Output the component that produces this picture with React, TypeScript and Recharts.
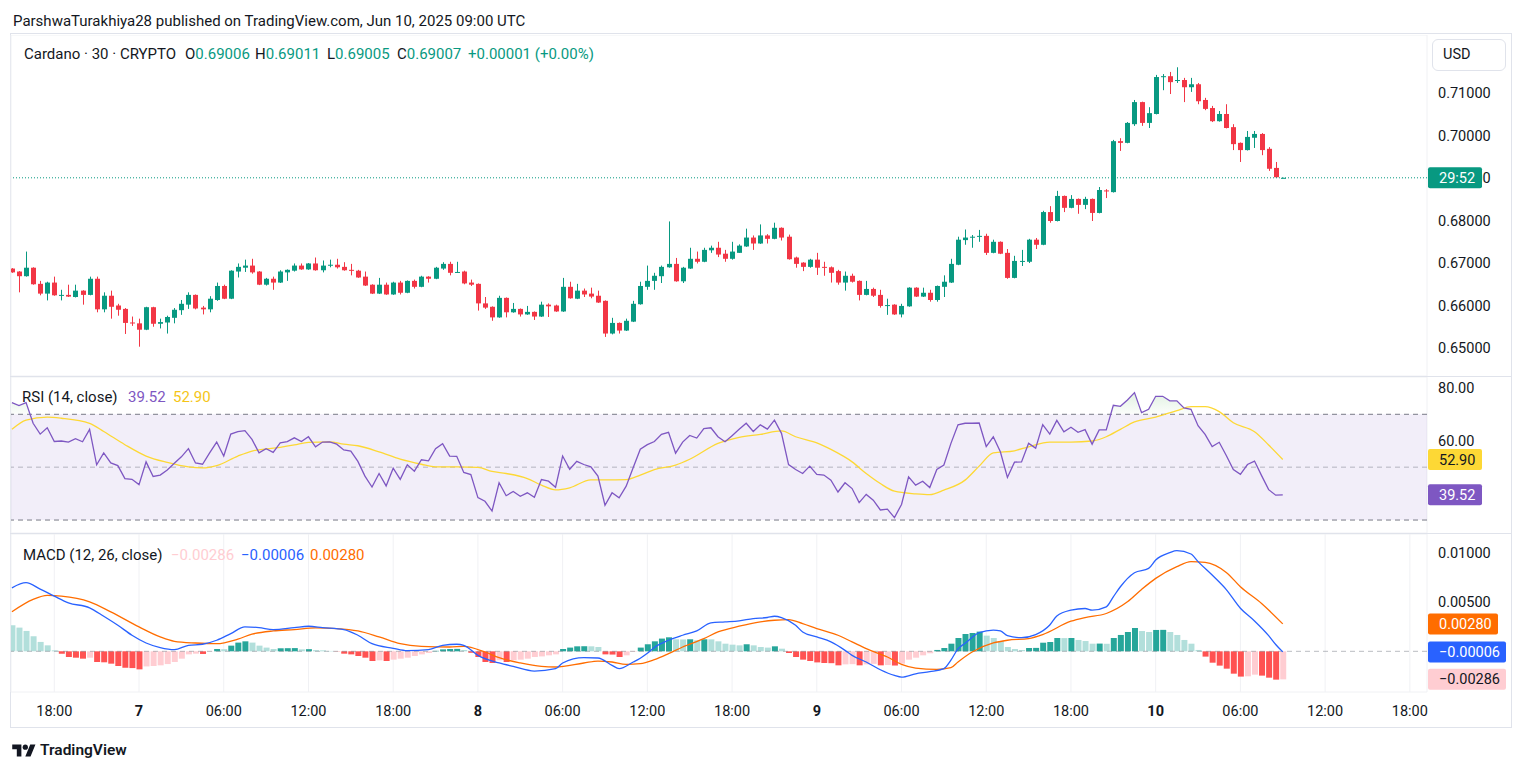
import React from "react";
import {
  ComposedChart,
  Bar,
  Line,
  Area,
  XAxis,
  YAxis,
  CartesianGrid,
  ReferenceLine,
  ReferenceArea,
  Cell,
} from "recharts";

const FONT = "Roboto, 'Noto Sans', Arial, sans-serif";
const TEXT = "#131722";
const GRID = "#f0f1f4";
const BORDER = "#e0e3eb";
const UP = "#089981";
const DOWN = "#f23645";
const RSI_COLOR = "#7e57c2";
const RSI_MA_COLOR = "#fdd835";
const MACD_COLOR = "#2962ff";
const SIGNAL_COLOR = "#ff6d00";

const CHART_W = 1512;
const AXIS_W = 85;
const X_DOMAIN: [number, number] = [-0.133, 200.43];

// ADA/USD 30m candles, Jun 6 15:00 UTC -> Jun 10 09:00 UTC: [open, high, low, close]
const CANDLES: [number, number, number, number][] = [
  [0.6687, 0.6688, 0.6677, 0.6678], [0.668, 0.6681, 0.6631, 0.6669], [0.6669, 0.6727, 0.6668, 0.6689], [0.6689, 0.669, 0.6649, 0.665], [0.6651, 0.6658, 0.6624, 0.6628], [0.6628, 0.6656, 0.6612, 0.6654],
  [0.6654, 0.6668, 0.6623, 0.6624], [0.6624, 0.6637, 0.6612, 0.6625], [0.6625, 0.6649, 0.662, 0.6621], [0.662, 0.6649, 0.6619, 0.6635], [0.6635, 0.6636, 0.6602, 0.6625], [0.6625, 0.6668, 0.6624, 0.6663], [0.6663, 0.6668, 0.6584, 0.6591], [0.6591, 0.6631, 0.6584, 0.6623], [0.6623, 0.6635, 0.6569, 0.6597], [0.66, 0.6604, 0.6576, 0.659], [0.6592, 0.6594, 0.6533, 0.6559], [0.656, 0.6574, 0.6552, 0.6559],
  [0.6558, 0.6569, 0.6503, 0.6543], [0.6543, 0.6597, 0.6542, 0.6596], [0.6596, 0.6597, 0.655, 0.6557], [0.6557, 0.6569, 0.6546, 0.6561], [0.656, 0.6576, 0.6534, 0.6573], [0.6571, 0.6594, 0.6558, 0.659], [0.6589, 0.6613, 0.6578, 0.6604], [0.6602, 0.6631, 0.6592, 0.6625], [0.6625, 0.6626, 0.6591, 0.6593], [0.6595, 0.6599, 0.6579, 0.6591], [0.6591, 0.6622, 0.6584, 0.6616], [0.6613, 0.6654, 0.6611, 0.6646],
  [0.6646, 0.6649, 0.6615, 0.6616], [0.6616, 0.6683, 0.6615, 0.6682], [0.668, 0.6699, 0.6666, 0.6691], [0.6689, 0.6708, 0.6679, 0.6694], [0.6694, 0.671, 0.6675, 0.6678], [0.668, 0.6681, 0.6648, 0.6649], [0.6649, 0.6665, 0.6647, 0.6663], [0.6663, 0.6668, 0.6637, 0.6654], [0.6654, 0.6683, 0.6653, 0.668], [0.6678, 0.6685, 0.6658, 0.6684], [0.6682, 0.6699, 0.668, 0.6694], [0.6694, 0.6699, 0.6684, 0.6685],
  [0.6685, 0.67, 0.6684, 0.6699], [0.6699, 0.6713, 0.6682, 0.6683], [0.6683, 0.6706, 0.6678, 0.6694], [0.6695, 0.6708, 0.669, 0.6696], [0.6696, 0.671, 0.6687, 0.669], [0.6691, 0.6702, 0.6682, 0.6683], [0.6684, 0.6698, 0.6671, 0.6683], [0.6682, 0.6684, 0.6665, 0.6666], [0.6668, 0.668, 0.6646, 0.6647], [0.6649, 0.665, 0.6627, 0.6628], [0.6628, 0.6665, 0.6627, 0.6649], [0.6649, 0.6654, 0.6625, 0.6626],
  [0.6626, 0.6656, 0.6625, 0.6654], [0.6654, 0.6658, 0.6626, 0.663], [0.663, 0.6659, 0.6629, 0.6658], [0.6658, 0.6661, 0.664, 0.6644], [0.6644, 0.667, 0.6643, 0.6668], [0.6668, 0.6669, 0.6654, 0.6663], [0.6663, 0.6691, 0.6662, 0.6689], [0.6687, 0.6702, 0.6684, 0.6698], [0.6698, 0.6703, 0.6671, 0.6677], [0.6678, 0.6703, 0.6677, 0.6679], [0.668, 0.6682, 0.665, 0.6652], [0.6654, 0.6661, 0.6646, 0.6649],
  [0.6651, 0.6652, 0.6588, 0.6605], [0.6605, 0.662, 0.6592, 0.6595], [0.6597, 0.6598, 0.6564, 0.6572], [0.6572, 0.6623, 0.6571, 0.6618], [0.6618, 0.6619, 0.6572, 0.6584], [0.6584, 0.6606, 0.6583, 0.6592], [0.6592, 0.6593, 0.6574, 0.6579], [0.6579, 0.6599, 0.6578, 0.6585], [0.6585, 0.6586, 0.6566, 0.6574], [0.6574, 0.6609, 0.6573, 0.6602], [0.6602, 0.6605, 0.6573, 0.6598], [0.66, 0.6602, 0.6585, 0.6586],
  [0.6586, 0.6665, 0.6585, 0.6644], [0.6644, 0.6656, 0.6616, 0.6617], [0.6616, 0.6651, 0.6615, 0.6635], [0.6635, 0.664, 0.662, 0.6626], [0.6628, 0.6642, 0.6617, 0.6621], [0.6623, 0.6635, 0.6606, 0.6607], [0.6611, 0.6612, 0.6526, 0.6534], [0.6534, 0.6571, 0.6532, 0.6559], [0.6559, 0.656, 0.6534, 0.6541], [0.6541, 0.6569, 0.654, 0.6564], [0.6562, 0.6611, 0.6561, 0.6604], [0.6603, 0.6656, 0.6602, 0.6646],
  [0.6644, 0.6694, 0.6637, 0.6658], [0.6658, 0.6677, 0.6637, 0.667], [0.6669, 0.6694, 0.6653, 0.6691], [0.669, 0.6798, 0.6689, 0.6698], [0.6698, 0.6712, 0.6656, 0.6657], [0.6657, 0.6691, 0.6653, 0.6689], [0.6687, 0.6736, 0.6686, 0.671], [0.671, 0.6727, 0.6699, 0.6703], [0.6703, 0.6736, 0.6702, 0.6731], [0.673, 0.6741, 0.6724, 0.6736], [0.6736, 0.675, 0.6714, 0.672], [0.6722, 0.6731, 0.6703, 0.671],
  [0.671, 0.675, 0.6708, 0.6727], [0.6724, 0.6744, 0.6724, 0.6741], [0.6739, 0.6781, 0.6738, 0.676], [0.676, 0.6765, 0.6731, 0.6746], [0.6746, 0.6791, 0.6745, 0.6765], [0.6765, 0.6768, 0.6746, 0.6757], [0.6757, 0.6795, 0.6756, 0.6783], [0.6783, 0.6784, 0.6753, 0.676], [0.6762, 0.6767, 0.6708, 0.6709], [0.6713, 0.6715, 0.6689, 0.6698], [0.6701, 0.6702, 0.6681, 0.6691], [0.6691, 0.671, 0.6689, 0.6708],
  [0.6708, 0.6724, 0.6672, 0.6689], [0.6691, 0.6703, 0.667, 0.669], [0.669, 0.6692, 0.6654, 0.6677], [0.6681, 0.6684, 0.6649, 0.6654], [0.6654, 0.668, 0.6635, 0.667], [0.667, 0.6675, 0.6654, 0.6656], [0.6658, 0.6659, 0.6612, 0.6625], [0.6625, 0.6658, 0.6624, 0.6639], [0.6639, 0.6642, 0.662, 0.6623], [0.6625, 0.6637, 0.6595, 0.6599], [0.66, 0.6616, 0.6578, 0.6601], [0.6602, 0.6603, 0.6578, 0.6579],
  [0.6579, 0.6604, 0.6572, 0.6599], [0.6598, 0.6643, 0.6597, 0.6642], [0.6642, 0.6643, 0.662, 0.6621], [0.6621, 0.6642, 0.662, 0.663], [0.663, 0.6637, 0.6609, 0.6613], [0.6613, 0.6647, 0.6609, 0.6646], [0.6644, 0.6671, 0.662, 0.6656], [0.6654, 0.671, 0.6653, 0.6698], [0.6696, 0.6762, 0.6695, 0.6755], [0.6754, 0.6779, 0.6743, 0.676], [0.6761, 0.6766, 0.6736, 0.6762], [0.6762, 0.6778, 0.675, 0.6764],
  [0.6764, 0.6769, 0.6719, 0.6724], [0.6724, 0.6755, 0.6723, 0.675], [0.675, 0.6751, 0.6721, 0.6722], [0.6724, 0.6733, 0.6663, 0.6665], [0.6665, 0.6717, 0.6664, 0.6705], [0.6704, 0.6731, 0.6693, 0.6705], [0.6703, 0.6757, 0.67, 0.6755], [0.6755, 0.6759, 0.6733, 0.6743], [0.6743, 0.6823, 0.6742, 0.682], [0.682, 0.6834, 0.6795, 0.6799], [0.6799, 0.687, 0.6798, 0.6858], [0.6858, 0.6859, 0.682, 0.683],
  [0.683, 0.686, 0.6829, 0.6851], [0.6851, 0.6852, 0.6816, 0.6837], [0.6837, 0.6856, 0.6827, 0.6851], [0.6851, 0.6852, 0.6799, 0.6818], [0.6818, 0.6879, 0.6817, 0.6872], [0.6871, 0.6874, 0.6853, 0.687], [0.6867, 0.699, 0.6866, 0.6987], [0.6987, 0.6994, 0.6964, 0.6983], [0.6983, 0.7032, 0.6982, 0.703], [0.7027, 0.7084, 0.7023, 0.7079], [0.7079, 0.708, 0.7023, 0.703], [0.703, 0.7067, 0.7018, 0.7053],
  [0.7051, 0.7143, 0.705, 0.7138], [0.7139, 0.7145, 0.7107, 0.714], [0.714, 0.715, 0.7098, 0.7126], [0.713, 0.7161, 0.7124, 0.7131], [0.7131, 0.7136, 0.7079, 0.7114], [0.7114, 0.7136, 0.7103, 0.7121], [0.7121, 0.7124, 0.7074, 0.7081], [0.7084, 0.7089, 0.706, 0.7063], [0.7065, 0.707, 0.7032, 0.7034], [0.7034, 0.7058, 0.7033, 0.7051], [0.7051, 0.7074, 0.7017, 0.7018], [0.702, 0.7027, 0.6966, 0.698],
  [0.6983, 0.6984, 0.6938, 0.6966], [0.6966, 0.7011, 0.6965, 0.6997], [0.6995, 0.7011, 0.6971, 0.7004], [0.7004, 0.7006, 0.6954, 0.6966], [0.6969, 0.6973, 0.6917, 0.6922], [0.6924, 0.6938, 0.6901, 0.6902], [0.69006, 0.69011, 0.69005, 0.69007],
];

// RSI(14) per candle
const RSI = [
  74.4, 73.3, 74.4, 66.6, 62.5, 64.9,
  59.7, 59.9, 59.5, 60.8, 59.6, 64.3, 50.9, 55.4, 51.6, 50.6, 45.7, 45.4,
  43.4, 52.0, 46.5, 47.0, 48.9, 51.5, 53.9, 57.0, 51.6, 51.1, 55.4, 59.5,
  54.2, 62.5, 63.4, 63.8, 60.5, 55.4, 57.0, 55.6, 59.2, 59.7, 61.1, 59.7,
  61.5, 57.7, 59.5, 59.6, 58.7, 56.5, 56.1, 52.2, 46.6, 42.5, 47.6, 42.9,
  49.6, 45.4, 50.9, 48.5, 52.8, 52.4, 57.0, 58.9, 54.2, 54.1, 48.0, 47.2,
  38.5, 37.1, 33.4, 44.1, 39.2, 40.8, 39.0, 40.3, 38.6, 45.3, 44.7, 42.4,
  54.2, 49.2, 52.2, 51.0, 50.1, 46.6, 35.6, 40.3, 38.4, 42.8, 49.9, 56.8,
  58.5, 59.7, 62.4, 63.2, 55.3, 59.5, 62.0, 61.0, 64.6, 64.9, 61.5, 59.6,
  61.9, 64.3, 66.6, 63.5, 66.0, 64.4, 67.8, 62.8, 51.0, 49.1, 47.6, 50.4,
  47.3, 47.0, 45.1, 40.6, 44.1, 41.9, 36.6, 39.7, 37.5, 33.8, 34.1, 30.9,
  35.9, 46.3, 43.2, 44.7, 42.3, 49.1, 50.8, 59.0, 66.0, 66.6, 66.6, 66.7,
  57.8, 61.5, 55.8, 46.1, 51.9, 52.0, 59.0, 57.2, 66.1, 62.5, 67.7, 63.4,
  65.1, 63.2, 64.2, 58.7, 64.1, 64.1, 73.4, 73.0, 75.4, 78.2, 70.6, 71.9,
  76.8, 76.8, 75.1, 75.1, 72.4, 71.9, 65.7, 62.4, 57.8, 59.4, 54.4, 49.1,
  47.3, 51.0, 52.3, 46.8, 41.5, 39.4, 39.52,
];

// RSI-based MA, read at [candle index, value]
const RSI_MA: [number, number][] = [
  [0, 64.3], [2, 67.8], [5, 68.9], [7, 68.5], [11, 66.6], [13, 63.5], [16, 58.5], [19, 54.2],
  [22, 51.8], [25, 50.1], [27, 49.7], [29, 50.6], [32, 54.2], [34, 56.1], [38, 57.5], [40, 58.4],
  [42, 59.4], [45, 59.6], [47, 58.7], [49, 58.1], [52, 55.8], [55, 53.0], [58, 51.1], [60, 50.1],
  [63, 50.1], [66, 49.9], [68, 48.4], [70, 47.6], [73, 45.7], [75, 43.2], [77, 41.4], [79, 42.2],
  [82, 45.2], [84, 45.2], [87, 45.3], [89, 47.0], [91, 49.1], [94, 50.8], [96, 53.0], [100, 59.0],
  [103, 61.3], [106, 62.4], [109, 63.7], [111, 61.5], [114, 59.2], [116, 56.7], [119, 52.0], [121, 47.6],
  [123, 43.8], [125, 40.9], [128, 39.9], [130, 39.6], [132, 41.3], [135, 45.1], [137, 50.4], [139, 55.4],
  [142, 56.2], [144, 57.7], [147, 59.5], [150, 59.5], [153, 59.9], [155, 61.5], [157, 64.3], [159, 67.1],
  [162, 68.9], [165, 71.4], [167, 72.9], [169, 72.9], [171, 71.0], [173, 66.8], [176, 63.4], [178, 58.4],
  [180, 52.9],
];

// MACD line, read at [candle index, value]
const MACD_LINE: [number, number][] = [
  [0, 0.00648], [2, 0.007], [4, 0.00635], [6, 0.00563], [8, 0.00495], [11, 0.00444], [13, 0.00358], [15, 0.00266],
  [17, 0.00164], [19, 0.00085], [21, 0.00038], [23, 0.00017], [25, 0.00061], [27, 0.00072], [29, 0.00113], [31, 0.00181],
  [33, 0.00249], [35, 0.00242], [37, 0.00222], [40, 0.00242], [42, 0.00256], [44, 0.00242], [47, 0.00222], [49, 0.00164],
  [51, 0.00078], [54, 0.00031], [56, 0.00007], [59, 0.00017], [61, 0.00061], [63, 0.00072], [64, 0.00061], [66, -0.00041],
  [69, -0.00119], [71, -0.00154], [74, -0.00201], [77, -0.00177], [78, -0.00119], [81, -0.00065], [83, -0.00068], [85, -0.00143],
  [86, -0.00177], [88, -0.00109], [89, -0.0007], [90, -0.0002], [91, 0.0004], [93, 0.00113], [95, 0.00164], [97, 0.00208],
  [99, 0.0029], [101, 0.003], [103, 0.00311], [105, 0.00334], [107, 0.00345], [108, 0.00358], [109, 0.00345], [111, 0.00266],
  [112, 0.00198], [114, 0.00147], [116, 0.00096], [118, 0.0001], [119, -0.00041], [121, -0.00109], [123, -0.00188], [125, -0.00246],
  [126, -0.00263], [128, -0.00229], [130, -0.00208], [132, -0.00177], [133, -0.0009], [134, 0.00025], [135, 0.00082], [137, 0.0019],
  [139, 0.00217], [140, 0.00208], [141, 0.00159], [143, 0.00139], [145, 0.0017], [147, 0.00268], [148, 0.0036], [150, 0.0042],
  [152, 0.00437], [153, 0.0042], [155, 0.00454], [156, 0.00556], [157, 0.00659], [159, 0.00802], [161, 0.00846], [162, 0.00932],
  [164, 0.01007], [165, 0.01027], [167, 0.00993], [168, 0.00915], [170, 0.00778], [172, 0.0063], [174, 0.0044], [176, 0.0031],
  [178, 0.0016], [179, 0.0007], [180, -0.00006],
];

// Signal line, read at [candle index, value]
const SIGNAL_LINE: [number, number][] = [
  [0, 0.00403], [3, 0.00529], [5, 0.0057], [7, 0.00563], [11, 0.00505], [14, 0.00403], [18, 0.00249], [21, 0.00147],
  [23, 0.00102], [26, 0.00085], [29, 0.00078], [32, 0.00125], [34, 0.00175], [37, 0.00208], [40, 0.00222], [43, 0.00239],
  [46, 0.00232], [49, 0.00208], [52, 0.00147], [55, 0.00078], [58, 0.00051], [62, 0.00044], [64, 0.00051], [67, -0.00007],
  [69, -0.00065], [72, -0.00119], [75, -0.00154], [77, -0.0016], [81, -0.00119], [83, -0.00099], [85, -0.00109], [87, -0.00133],
  [89, -0.00126], [91, -0.00085], [93, -0.00024], [95, 0.00044], [98, 0.0013], [100, 0.00198], [103, 0.00256], [106, 0.003],
  [108, 0.00317], [110, 0.00324], [112, 0.00283], [114, 0.00232], [117, 0.00164], [119, 0.00096], [121, 0.00027], [124, -0.00058],
  [126, -0.00133], [128, -0.00171], [131, -0.00184], [133, -0.00167], [134, -0.00109], [136, -0.00007], [139, 0.00085], [141, 0.00113],
  [144, 0.0013], [146, 0.00171], [150, 0.00307], [152, 0.00345], [155, 0.00386], [158, 0.00505], [160, 0.00631], [162, 0.00744],
  [165, 0.00864], [167, 0.00915], [169, 0.00908], [172, 0.00805], [174, 0.00659], [177, 0.00488], [180, 0.0028],
];

// MACD histogram per candle
const HIST = [
  0.00266, 0.00242, 0.00208, 0.00154, 0.00096, 0.00061,
  0.0001, -0.00024, -0.00058, -0.00065, -0.00075, -0.00065, -0.00109, -0.00112, -0.00126, -0.0015, -0.00167, -0.00171,
  -0.00184, -0.00154, -0.0015, -0.00143, -0.0013, -0.00109, -0.00075, -0.00031, -0.00024, -0.00027, -0.00003, 0.00024,
  0.00022, 0.00058, 0.00089, 0.00102, 0.00089, 0.00058, 0.00038, 0.00024, 0.00031, 0.00032, 0.00033, 0.0002,
  0.00022, 0.00012, 0.0001, 0.00004, -0.00002, -0.00024, -0.00031, -0.00048, -0.00065, -0.00099, -0.00092, -0.00099,
  -0.00085, -0.00075, -0.00065, -0.00048, -0.00031, -0.00017, 0.00005, 0.0002, 0.00024, 0.00025, 0.00014, -0.00015,
  -0.00058, -0.00109, -0.00119, -0.00092, -0.00109, -0.00092, -0.00085, -0.00075, -0.00058, -0.00052, -0.00041, -0.00031,
  0.00024, 0.00038, 0.00051, 0.00052, 0.00051, 0.00044, -0.00031, -0.00033, -0.00058, -0.00041, -0.00005, 0.00038,
  0.00072, 0.00102, 0.0013, 0.00143, 0.00123, 0.00121, 0.00123, 0.00113, 0.00123, 0.00122, 0.00102, 0.00078,
  0.00068, 0.00061, 0.00072, 0.00061, 0.00044, 0.00038, 0.00051, 0.00027, -0.00017, -0.00058, -0.00085, -0.00099,
  -0.00113, -0.00119, -0.00121, -0.00143, -0.00133, -0.00131, -0.00143, -0.00133, -0.00128, -0.00143, -0.0014, -0.00145,
  -0.00126, -0.00085, -0.00065, -0.00041, -0.0002, 0.00014, 0.00034, 0.00078, 0.00136, 0.00177, 0.00187, 0.00201,
  0.0016, 0.00136, 0.00105, 0.00044, 0.00024, 0.00014, 0.00034, 0.00035, 0.00088, 0.00095, 0.00136, 0.00135,
  0.00136, 0.00116, 0.00105, 0.00078, 0.00079, 0.00077, 0.00136, 0.00167, 0.00197, 0.00238, 0.00207, 0.00197,
  0.00218, 0.00219, 0.00197, 0.00167, 0.00116, 0.00078, 0.00014, -0.00054, -0.00116, -0.00146, -0.00177, -0.00228,
  -0.00258, -0.00255, -0.00238, -0.00248, -0.00269, -0.00289, -0.00286,
];

const TIME_TICKS = [6, 18, 30, 42, 54, 66, 78, 90, 102, 114, 126, 138, 150, 162, 174, 186, 198];
const TIME_LABELS = ["18:00", "7", "06:00", "12:00", "18:00", "8", "06:00", "12:00", "18:00", "9", "06:00", "12:00", "18:00", "10", "06:00", "12:00", "18:00"];
const DAY_LABELS = ["7", "8", "9", "10"];

const PRICE_TICKS = [0.65, 0.66, 0.67, 0.68, 0.69, 0.7, 0.71, 0.72];
const RSI_TICKS = [40, 60, 80];
const MACD_TICKS = [0, 0.005, 0.01];

const rsiMaAt = new Map(RSI_MA);
const macdAt = new Map(MACD_LINE);
const signalAt = new Map(SIGNAL_LINE);

const rows = CANDLES.map(([o, h, l, c], i) => ({
  i,
  o,
  h,
  l,
  c,
  range: [l, h],
  rsi: RSI[i],
  rsiMa: rsiMaAt.get(i) ?? null,
  macd: macdAt.get(i) ?? null,
  signal: signalAt.get(i) ?? null,
  hist: HIST[i],
}));

const histColor = (i: number) => {
  const v = HIST[i];
  const prev = i > 0 ? HIST[i - 1] : Infinity;
  if (v >= 0) return v >= prev ? "#26a69a" : "#b2dfdb";
  return v < prev ? "#ff5252" : "#ffcdd2";
};

// where 70 sits inside the overbought area's bounding box
const rsiMax = Math.max(...RSI);
const rsiMin = Math.min(...RSI);
const obStop = (rsiMax - 70) / (rsiMax - rsiMin);

const Candle = (props: any) => {
  const { x, y, width, height, payload } = props;
  if (x == null || y == null) return null;
  const { o, h, l, c } = payload;
  const top = Math.min(y, y + height);
  const span = Math.abs(height);
  const k = h - l > 0 ? span / (h - l) : 0;
  const py = (v: number) => top + (h - v) * k;
  const color = c >= o ? UP : DOWN;
  const cx = Math.round(x + width / 2);
  const bTop = py(Math.max(o, c));
  const bBot = py(Math.min(o, c));
  return (
    <g>
      <line x1={cx + 0.5} x2={cx + 0.5} y1={top} y2={top + span} stroke={color} strokeWidth={1} />
      <rect x={cx - 2} y={bTop} width={5} height={Math.max(1, bBot - bTop)} fill={color} />
    </g>
  );
};

const TimeTick = (props: any) => {
  const { x, y, payload } = props;
  const label = TIME_LABELS[TIME_TICKS.indexOf(payload.value)] ?? "";
  const day = DAY_LABELS.includes(label);
  return (
    <text x={x} y={y} dy={16} textAnchor="middle" fontSize={14.5} fontWeight={day ? 700 : 400} fontFamily={FONT} fill={TEXT}>
      {label}
    </text>
  );
};

// scale label drawn next to the plot's right edge
const scaleText = (text: string) => (props: any) => {
  const vb = props.viewBox;
  if (!vb) return null;
  return (
    <text x={vb.x + vb.width + 11} y={vb.y} dy="0.35em" fontSize={14.5} fontFamily={FONT} fill={TEXT}>
      {text}
    </text>
  );
};

// value tag on the right scale, drawn over the scale labels
const badge = (text: string, fill: string, color: string, w: number) => (props: any) => {
  const vb = props.viewBox;
  if (!vb) return null;
  const x = vb.x + vb.width + 1;
  const y = vb.y;
  return (
    <g>
      <rect x={x} y={y - 10.5} width={w} height={21} rx={2} fill={fill} />
      <text x={x + 11} y={y} dy="0.35em" fontSize={14.5} fontFamily={FONT} fill={color}>
        {text}
      </text>
    </g>
  );
};

const scaleLabels = (ticks: number[], fmt: (v: number) => string) =>
  ticks.map((v) => <ReferenceLine key={`s${v}`} y={v} stroke="none" label={scaleText(fmt(v))} />);

const xAxisHidden = (
  <XAxis
    type="number"
    dataKey="i"
    domain={X_DOMAIN}
    ticks={TIME_TICKS}
    allowDataOverflow
    height={0}
    tick={false}
    axisLine={false}
    tickLine={false}
  />
);

const abs = (left: number, top: number): React.CSSProperties => ({
  position: "absolute",
  left,
  top,
  whiteSpace: "nowrap",
  fontSize: 15,
  transform: "translateY(-50%)",
});

export default function App() {
  return (
    <div style={{ position: "absolute", left: 0, top: 0, width: 1525, height: 772, background: "#fff", fontFamily: FONT, color: TEXT, overflow: "hidden" }}>
      <div style={abs(13, 20.5)}>ParshwaTurakhiya28 published on TradingView.com, Jun 10, 2025 09:00 UTC</div>

      <div style={{ position: "absolute", left: 10, top: 33, width: 1502, height: 695, border: `1px solid ${BORDER}`, boxSizing: "border-box" }} />

      {/* price pane */}
      <div style={{ position: "absolute", left: 0, top: 35 }}>
        <ComposedChart width={CHART_W} height={341} data={rows} margin={{ top: 0, right: 0, bottom: 0, left: 11 }}>
          <CartesianGrid stroke={GRID} />
          {xAxisHidden}
          <YAxis
            orientation="right"
            width={AXIS_W}
            domain={[0.6434, 0.7237]}
            allowDataOverflow
            ticks={PRICE_TICKS}
            interval={0}
            axisLine={false}
            tickLine={false}
            tick={false}
          />
          {/* 0.72 sits under the currency button */}
          {scaleLabels(PRICE_TICKS.filter((v) => v < 0.715), (v) => v.toFixed(5))}
          <ReferenceLine y={0.69007} stroke={UP} strokeDasharray="1 2" label={badge("29:52", UP, "#ffffff", 54)} />
          <Bar dataKey="range" barSize={5} shape={<Candle />} isAnimationActive={false} />
        </ComposedChart>
      </div>

      <div style={{ position: "absolute", left: 10, top: 376, width: 1502, height: 1, background: BORDER }} />

      {/* RSI pane */}
      <div style={{ position: "absolute", left: 0, top: 377 }}>
        <ComposedChart width={CHART_W} height={156} data={rows} margin={{ top: 0, right: 0, bottom: 0, left: 11 }}>
          <defs>
            <linearGradient id="obFill" x1="0" y1="0" x2="0" y2="1">
              <stop offset={0} stopColor="#4caf50" stopOpacity={0.28} />
              <stop offset={obStop} stopColor="#4caf50" stopOpacity={0.03} />
              <stop offset={obStop} stopColor="#4caf50" stopOpacity={0} />
              <stop offset={1} stopColor="#4caf50" stopOpacity={0} />
            </linearGradient>
          </defs>
          <CartesianGrid stroke={GRID} />
          {xAxisHidden}
          <YAxis
            orientation="right"
            width={AXIS_W}
            domain={[25.1, 84.1]}
            allowDataOverflow
            ticks={RSI_TICKS}
            interval={0}
            axisLine={false}
            tickLine={false}
            tick={false}
          />
          <ReferenceArea y1={30} y2={70} fill={RSI_COLOR} fillOpacity={0.1} stroke="none" />
          <ReferenceLine y={70} stroke="#787b86" strokeDasharray="5 4" />
          <ReferenceLine y={50} stroke="#787b86" strokeOpacity={0.5} strokeDasharray="5 4" />
          <ReferenceLine y={30} stroke="#787b86" strokeDasharray="5 4" />
          <Area dataKey="rsi" baseValue={70} type="linear" stroke="none" fill="url(#obFill)" isAnimationActive={false} />
          <Line dataKey="rsiMa" type="monotone" stroke={RSI_MA_COLOR} strokeWidth={1.3} dot={false} connectNulls isAnimationActive={false} />
          <Line dataKey="rsi" type="linear" stroke={RSI_COLOR} strokeWidth={1.3} dot={false} isAnimationActive={false} />
          {/* 40.00 is fully hidden by the RSI tag */}
          {scaleLabels(RSI_TICKS.filter((v) => v > 45), (v) => v.toFixed(2))}
          <ReferenceLine y={52.9} stroke="none" label={badge("52.90", RSI_MA_COLOR, TEXT, 54)} />
          <ReferenceLine y={39.52} stroke="none" label={badge("39.52", RSI_COLOR, "#ffffff", 54)} />
        </ComposedChart>
      </div>

      <div style={{ position: "absolute", left: 10, top: 533, width: 1502, height: 1, background: BORDER }} />

      {/* MACD pane */}
      <div style={{ position: "absolute", left: 0, top: 534 }}>
        <ComposedChart width={CHART_W} height={193} data={rows} margin={{ top: 0, right: 0, bottom: 0, left: 11 }}>
          <CartesianGrid stroke={GRID} />
          <XAxis
            type="number"
            dataKey="i"
            domain={X_DOMAIN}
            ticks={TIME_TICKS}
            interval={0}
            allowDataOverflow
            height={35}
            axisLine={false}
            tickLine={false}
            tick={<TimeTick />}
          />
          <YAxis
            orientation="right"
            width={AXIS_W}
            domain={[-0.00415, 0.01197]}
            allowDataOverflow
            ticks={MACD_TICKS}
            interval={0}
            axisLine={false}
            tickLine={false}
            tick={false}
          />
          <Bar dataKey="hist" barSize={6} isAnimationActive={false}>
            {rows.map((r) => (
              <Cell key={r.i} fill={histColor(r.i)} />
            ))}
          </Bar>
          <ReferenceLine y={0} stroke="#787b86" strokeOpacity={0.5} strokeDasharray="5 4" />
          <Line dataKey="signal" type="monotone" stroke={SIGNAL_COLOR} strokeWidth={1.3} dot={false} connectNulls isAnimationActive={false} />
          <Line dataKey="macd" type="monotone" stroke={MACD_COLOR} strokeWidth={1.3} dot={false} connectNulls isAnimationActive={false} />
          {/* 0.00000 is fully hidden by the MACD tag */}
          {scaleLabels(MACD_TICKS.filter((v) => v > 0), (v) => v.toFixed(5))}
          <ReferenceLine y={0.0028} stroke="none" label={badge("0.00280", SIGNAL_COLOR, "#ffffff", 70)} />
          <ReferenceLine y={-0.00006} stroke="none" label={badge("\u22120.00006", MACD_COLOR, "#ffffff", 78)} />
          <ReferenceLine y={-0.00286} stroke="none" label={badge("\u22120.00286", "#ffcdd2", TEXT, 78)} />
        </ComposedChart>
      </div>

      {/* legends */}
      <div style={abs(24, 54)}>Cardano · 30 · CRYPTO</div>
      <div style={abs(185, 54)}>
        O<span style={{ color: UP }}>0.69006</span>
      </div>
      <div style={abs(255, 54)}>
        H<span style={{ color: UP }}>0.69011</span>
      </div>
      <div style={abs(327, 54)}>
        L<span style={{ color: UP }}>0.69005</span>
      </div>
      <div style={abs(397, 54)}>
        C<span style={{ color: UP }}>0.69007</span>
      </div>
      <div style={{ ...abs(468, 54), color: UP }}>+0.00001 (+0.00%)</div>

      <div style={abs(22, 396.5)}>RSI (14, close)</div>
      <div style={{ ...abs(128, 396.5), color: RSI_COLOR }}>39.52</div>
      <div style={{ ...abs(173, 396.5), color: "#f5c518" }}>52.90</div>

      <div style={abs(23, 555)}>MACD (12, 26, close)</div>
      <div style={{ ...abs(171, 555), color: "#ffcdd2" }}>{"\u22120.00286"}</div>
      <div style={{ ...abs(241, 555), color: MACD_COLOR }}>{"\u22120.00006"}</div>
      <div style={{ ...abs(310, 555), color: SIGNAL_COLOR }}>0.00280</div>

      {/* currency button */}
      <div
        style={{
          position: "absolute",
          left: 1432,
          top: 39,
          width: 74,
          height: 32,
          border: `1px solid ${BORDER}`,
          borderRadius: 6,
          boxSizing: "border-box",
          fontSize: 14.5,
          lineHeight: "30px",
          paddingLeft: 10,
          background: "#fff",
        }}
      >
        USD
      </div>

      {/* footer */}
      <svg style={{ position: "absolute", left: 12, top: 742 }} width={24} height={17} viewBox="0 0 36 26">
        <path d="M14 22H7V11H0V4h14v18zM28 22h-8l7.5-18h8L28 22z" fill={TEXT} />
        <circle cx={20} cy={8} r={4} fill={TEXT} />
      </svg>
      <div style={{ ...abs(40, 750), fontSize: 15.5, fontWeight: 600 }}>TradingView</div>
    </div>
  );
}
